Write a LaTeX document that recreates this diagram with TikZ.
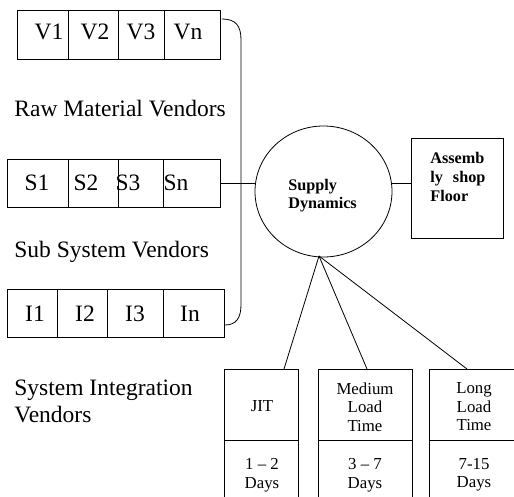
\documentclass[tikz,border=0pt]{standalone}
\usepackage{fontspec}
\setmainfont{Liberation Serif}
\usetikzlibrary{shapes.geometric}
\begin{document}
\begin{tikzpicture}[x=1pt,y=-1pt,line width=0.8pt]
\tikzset{
  cell/.style={draw, inner sep=0pt, anchor=north west},
  vtxt/.style={inner sep=0pt, anchor=base, font=\fontsize{23.5}{27}\selectfont},
  lbl/.style={inner sep=0pt, anchor=base west, align=left, font=\fontsize{23.5}{27}\selectfont},
  hub/.style={inner sep=0pt, anchor=base west, align=left, font=\bfseries\fontsize{16.2}{18.5}\selectfont},
  ltxt/.style={inner sep=0pt, align=center, font=\fontsize{16.8}{18.5}\selectfont},
  link/.style={line width=0.8pt}
}
\useasboundingbox (0,0) rectangle (514,497);
\clip (0,0) rectangle (514,497);

% raw material vendors
\node[cell, minimum width=51pt, minimum height=49pt] (v1) at (17,10) {};
\node[cell, minimum width=50pt, minimum height=49pt] (v2) at (68,10) {};
\node[cell, minimum width=46pt, minimum height=49pt] (v3) at (118,10) {};
\node[cell, minimum width=56pt, minimum height=49pt] (v4) at (164,10) {};
\node[vtxt] (tv1) at (49,40) {V1};
\node[vtxt] (tv2) at (95,40) {V2};
\node[vtxt] (tv3) at (141,40) {V3};
\node[vtxt] (tv4) at (188,40) {Vn};
\node[lbl] (lraw) at (14,117) {Raw Material Vendors};

% sub system vendors
\node[cell, minimum width=61pt, minimum height=48pt] (s1) at (7,159) {};
\node[cell, minimum width=50pt, minimum height=48pt] (s2) at (68,159) {};
\node[cell, minimum width=45pt, minimum height=48pt] (s3) at (118,159) {};
\node[cell, minimum width=57pt, minimum height=48pt] (s4) at (163,159) {};
\node[vtxt] (ts1) at (37,191) {S1};
\node[vtxt] (ts2) at (86,191) {S2};
\node[vtxt] (ts3) at (128,191) {S3};
\node[vtxt] (ts4) at (176,191) {Sn};
\node[lbl] (lsub) at (14,257) {Sub System Vendors};

% system integration vendors
\node[cell, minimum width=50pt, minimum height=48pt] (i1) at (7,289) {};
\node[cell, minimum width=50pt, minimum height=48pt] (i2) at (57,289) {};
\node[cell, minimum width=56pt, minimum height=48pt] (i3) at (107,289) {};
\node[cell, minimum width=61pt, minimum height=48pt] (i4) at (163,289) {};
\node[vtxt] (ti1) at (35,321) {I1};
\node[vtxt] (ti2) at (85,321) {I2};
\node[vtxt] (ti3) at (135,321) {I3};
\node[vtxt] (ti4) at (190,321) {In};
\node[lbl] (lsys) at (14,422) {System Integration\\Vendors};

% hub and assembly floor
\node[draw, ellipse, minimum width=137pt, minimum height=131pt, inner sep=0pt] (sd) at (323.5,191.5) {};
\node[hub] (tsd) at (288,209) {Supply\\Dynamics};
\node[cell, minimum width=92pt, minimum height=100pt] (asm) at (411,138) {};
\node[hub, font=\bfseries\fontsize{16.2}{19}\selectfont] (tasm) at (430,202) {Assemb\\\makebox[55pt][s]{ly\hfil shop}\\Floor};

% bracket collecting the vendor rows
\coordinate (btop) at (222,19);
\coordinate (bbot) at (225,325);
\draw[link] (btop) .. controls (236,19) and (241,26) .. (241,40) -- (241,305)
  .. controls (241,318) and (236,325) .. (bbot);
\draw[link] (s4.east) -- (sd.west |- s4.east);
\draw[link] (sd.east |- s4.east) -- (asm.west |- s4.east);

% lead time classes
\node[cell, minimum width=74pt, minimum height=71pt] (j1) at (224,369) {};
\node[cell, minimum width=94pt, minimum height=71pt] (j2) at (318,369) {};
\node[cell, minimum width=100pt, minimum height=71pt] (j3) at (429,369) {};
\node[cell, minimum width=74pt, minimum height=80pt] (d1) at (224,440) {};
\node[cell, minimum width=94pt, minimum height=80pt] (d2) at (318,440) {};
\node[cell, minimum width=100pt, minimum height=80pt] (d3) at (429,440) {};
\node[ltxt] (tj1) at (262,406) {JIT};
\node[ltxt] (tj2) at (365,407) {Medium\\Load\\Time};
\node[ltxt] (tj3) at (474,407) {Long\\Load\\Time};
\node[ltxt] (td1) at (262,475) {1 – 2\\Days};
\node[ltxt] (td2) at (365,475) {3 – 7\\Days};
\node[ltxt] (td3) at (474,475) {7-15\\Days};

\coordinate (apex) at (319,256);
\coordinate (e1) at (284,369);
\coordinate (e2) at (367,369);
\coordinate (e3) at (467,369);
\draw[link] (apex) -- (e1);
\draw[link] (apex) -- (e2);
\draw[link] (apex) -- (e3);
\end{tikzpicture}
\end{document}
